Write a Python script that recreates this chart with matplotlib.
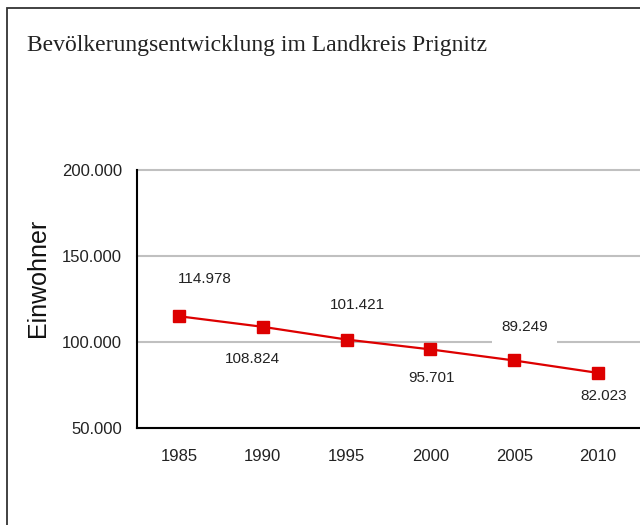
import matplotlib
matplotlib.use("Agg")
import matplotlib.pyplot as plt
from matplotlib.patches import Rectangle
from matplotlib.ticker import FuncFormatter

years = ["1985", "1990", "1995", "2000", "2005", "2010"]
population = [114978, 108824, 101421, 95701, 89249, 82023]
y_ticks = [50000, 100000, 150000, 200000]

# label placement (pixel offsets from the point) - styling only
label_dx = [26, -10, 11, 1, 10, 6]
label_dy = [37, -32, 35, -29, 33, -23]
label_pad = [0.25, 0.25, 0.25, 0.25, 0.6, 0.25]

title = "Bevölkerungsentwicklung im Landkreis Prignitz"
y_label = "Einwohner"

W, H = 640, 525
fig = plt.figure(figsize=(W / 100, H / 100), dpi=100)
fig.patch.set_facecolor("white")

# outer chart frame (clipped on right and bottom)
fig.patches.append(Rectangle((7 / W, -0.05), 1.2, 1.05 - 8 / H,
                             transform=fig.transFigure, fill=False,
                             edgecolor="#333333", linewidth=1.3))

ax = fig.add_axes([137 / W, (H - 428) / H, 1 - 137 / W, (428 - 170) / H])
x = list(range(len(years)))

ax.set_xlim(-0.5, len(years) - 0.5)
ax.set_ylim(50000, 200000)
ax.set_yticks(y_ticks)
ax.yaxis.set_major_formatter(FuncFormatter(lambda v, p: f"{int(v):,}".replace(",", ".")))
ax.set_xticks(x)
ax.set_xticklabels(years)

for s in ["top", "right"]:
    ax.spines[s].set_visible(False)
for s in ["left", "bottom"]:
    ax.spines[s].set_color("black")
    ax.spines[s].set_linewidth(1.5)
    ax.spines[s].set_zorder(5)

ax.grid(axis="y", color="#c0c0c0", linewidth=1.5)
for gl in ax.yaxis.get_gridlines():
    gl.set_clip_on(False)
ax.set_axisbelow(True)
ax.tick_params(axis="both", length=0, labelsize=12, colors="#222222")
ax.tick_params(axis="y", pad=10.8)
ax.tick_params(axis="x", pad=15)
for lab in ax.get_xticklabels() + ax.get_yticklabels():
    lab.set_fontfamily("Liberation Sans")

ax.plot(x, population, color="#dd0000", linewidth=1.6, marker="s",
        markersize=8.5, markerfacecolor="#dd0000", markeredgecolor="#dd0000",
        zorder=4)

for xi, v, dx, dy, pad in zip(x, population, label_dx, label_dy, label_pad):
    ax.annotate(f"{v:,}".replace(",", "."), (xi, v), textcoords="offset pixels",
                xytext=(dx, dy), ha="center", va="center", fontsize=11,
                family="Liberation Sans", color="#222222", zorder=6,
                bbox=dict(boxstyle=f"square,pad={pad}", facecolor="white",
                          edgecolor="none"))

fig.text(38 / W, 1 - 278 / H, y_label, rotation=90, ha="center", va="center",
         fontsize=18, family="Liberation Sans", color="#111111")

fig.text(27 / W, 1 - 46 / H, title, ha="left", va="center", fontsize=17,
         family="Liberation Serif", color="#222222")

fig.savefig("out.png", dpi=100)
